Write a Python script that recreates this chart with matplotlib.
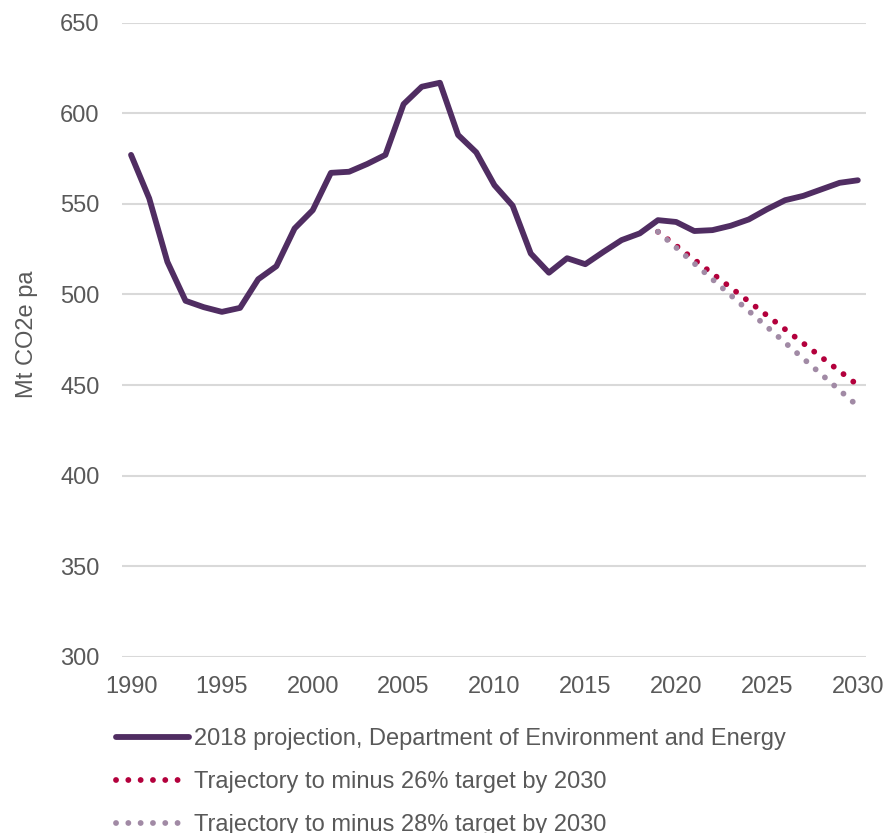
import matplotlib
matplotlib.use('Agg')
import matplotlib.pyplot as plt

plt.rcParams['font.family'] = ['Liberation Sans', 'DejaVu Sans']

years = list(range(1990, 2031))
projection = [577, 553, 518, 496.5, 493, 490.4, 492.6, 508.4, 515.6, 536.4,
              546.5, 567.1, 567.7, 572, 577, 605, 614.6, 616.8, 588, 578.4,
              560.3, 549, 522.6, 512, 520, 516.7, 523.5, 530, 533.7, 541,
              540, 535, 535.5, 537.9, 541.4, 547, 552, 554.4, 558, 561.6, 563]

traj_years = [2019, 2030]
traj_26 = [534.6, 450]
traj_28 = [534.6, 438.4]

labels = ['2018 projection, Department of Environment and Energy',
          'Trajectory to minus 26% target by 2030',
          'Trajectory to minus 28% target by 2030']

text_grey = '#595959'

fig = plt.figure(figsize=(8.87, 8.33), dpi=100)
ax = fig.add_axes([0.1375, 0.2113, 0.9763 - 0.1375, 0.9729 - 0.2113])

l1, = ax.plot(years, projection, color='#502D62', linewidth=4.2,
              solid_capstyle='round', solid_joinstyle='round', zorder=3)
l2, = ax.plot(traj_years, traj_26, color='#B3003C', linewidth=4.2,
              linestyle=(0, (0.01, 2.1)), dash_capstyle='round', zorder=2)
l3, = ax.plot(traj_years, traj_28, color='#A18AA5', linewidth=4.2,
              linestyle=(0, (0.01, 2.1)), dash_capstyle='round', zorder=2.5)

ax.set_xlim(1989.5, 2030.45)
ax.set_ylim(300, 650)
ax.set_xticks(range(1990, 2031, 5))
ax.set_yticks(range(300, 651, 50))
ax.grid(axis='y', color='#D9D9D9', linewidth=1.5)
ax.set_axisbelow(True)
for s in ax.spines.values():
    s.set_visible(False)
ax.tick_params(axis='both', length=0, labelsize=17, labelcolor=text_grey)
ax.tick_params(axis='y', pad=16)
ax.tick_params(axis='x', pad=14)

ax.set_ylabel('Mt CO2e pa', fontsize=17, color=text_grey)
ax.yaxis.set_label_coords(-0.113, 0.509)

fig.legend([l1, l2, l3], labels, loc='upper left',
           bbox_to_anchor=(115.7 / 887, 1 - 728 / 833), frameon=False,
           fontsize=17, labelcolor=text_grey, borderpad=0, borderaxespad=0,
           handlelength=3.1, handletextpad=0.2, labelspacing=0.9)

fig.savefig('out.png', dpi=100)
